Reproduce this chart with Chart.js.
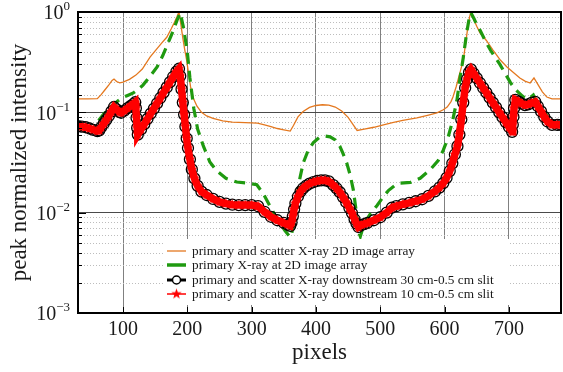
<!DOCTYPE html>
<html>
<head>
<meta charset="utf-8">
<script src="https://cdn.jsdelivr.net/npm/chart.js@4.4.1/dist/chart.umd.min.js"></script>
<style>
  html, body { margin: 0; padding: 0; background: #fff; }
  canvas { display: block; }
</style>
</head>
<body>
<canvas id="myChart" width="563" height="372"></canvas>
<script>
// primary and scatter X-ray, 2D image array (orange)
const scatterX = [30, 45, 60, 66, 72, 78, 83, 86, 90, 95,
  100, 110, 120, 130, 142, 150, 160, 168, 175, 180,
  184, 187, 190, 193, 196, 199, 202, 205, 209, 215,
  222, 230, 240, 255, 270, 290, 309, 320, 330, 340,
  350, 360, 365, 372, 380, 390, 400, 410, 420, 430,
  440, 450, 458, 464, 475, 490, 505, 519, 535, 557,
  575, 588, 598, 604, 610, 613, 618, 624, 629, 633,
  636, 639, 641, 645, 650, 655, 665, 675, 687, 697,
  707, 717, 725, 733, 739, 745, 752, 759, 767, 781];
const scatterY = [0.136, 0.136, 0.137, 0.150, 0.168, 0.188, 0.208, 0.215, 0.203, 0.197,
  0.200, 0.213, 0.235, 0.27, 0.355, 0.41, 0.49, 0.56, 0.68, 0.79,
  0.90, 1.0, 0.75, 0.55, 0.42, 0.33, 0.24, 0.18, 0.14, 0.115,
  0.100, 0.092, 0.087, 0.082, 0.080, 0.079, 0.078, 0.075, 0.072, 0.069,
  0.067, 0.065, 0.074, 0.090, 0.102, 0.112, 0.117, 0.119, 0.118, 0.113,
  0.103, 0.089, 0.075, 0.066, 0.068, 0.071, 0.075, 0.079, 0.083, 0.088,
  0.094, 0.099, 0.106, 0.113, 0.128, 0.142, 0.18, 0.25, 0.33, 0.50,
  0.70, 0.90, 1.0, 0.85, 0.72, 0.62, 0.52, 0.42, 0.33, 0.283,
  0.25, 0.22, 0.205, 0.196, 0.22, 0.19, 0.16, 0.142, 0.136, 0.136];

// primary X-ray at 2D image array (green dashed)
const primaryX = [62, 70, 80, 90, 98, 108, 116, 124, 131, 140,
  153, 162, 170, 178, 184, 189, 194, 200, 204, 210,
  216, 225, 235, 246, 260, 277, 295, 308, 318, 328,
  340, 352, 360, 362, 366, 370, 375, 380, 388, 396,
  405, 414, 422, 430, 437, 442, 448, 453, 458, 462,
  466, 469, 475, 485, 495, 505, 513, 522, 531, 547,
  562, 578, 590, 598, 605, 612, 619, 624, 629, 634,
  638, 641, 646, 650, 655, 663, 671, 679, 686, 694,
  702, 708, 714, 721, 728, 733, 738, 743, 748, 755, 762];
const primaryY = [0.083, 0.096, 0.113, 0.127, 0.139, 0.148, 0.156, 0.170, 0.187, 0.22,
  0.283, 0.37, 0.49, 0.65, 0.83, 0.98, 0.70, 0.40, 0.22, 0.11,
  0.068, 0.046, 0.032, 0.026, 0.022, 0.0202, 0.0197, 0.0190, 0.0155, 0.0118,
  0.0085, 0.0066, 0.0057, 0.0060, 0.0085, 0.014, 0.022, 0.031, 0.042, 0.050,
  0.056, 0.058, 0.057, 0.053, 0.046, 0.039, 0.031, 0.024, 0.017, 0.011,
  0.0065, 0.0058, 0.0078, 0.0098, 0.0118, 0.0145, 0.0167, 0.0185, 0.0197, 0.020,
  0.022, 0.027, 0.033, 0.042, 0.055, 0.08, 0.13, 0.22, 0.35, 0.6,
  0.85, 0.98, 0.85, 0.75, 0.66, 0.52, 0.42, 0.35, 0.30, 0.245,
  0.20, 0.175, 0.16, 0.145, 0.135, 0.14, 0.149, 0.128, 0.113, 0.10, 0.09];

// downstream slit profiles (30 cm and 10 cm overlap in the picture)
const slitX = [30, 36, 42, 48, 54, 60, 63, 66, 70, 74,
  78, 82, 86, 90, 94, 97, 102, 107, 112, 116,
  119, 120, 121, 122, 123, 128, 133, 138, 143, 148,
  153, 158, 163, 168, 173, 178, 183, 187, 189, 191,
  193, 195, 197, 199, 201, 204, 207, 211, 216, 222,
  230, 240, 250, 260, 270, 280, 290, 300, 310, 320,
  330, 340, 350, 356, 360, 362, 364, 366, 368, 372,
  376, 380, 385, 390, 396, 402, 408, 414, 420, 427,
  432, 437, 442, 447, 452, 456, 460, 463, 466, 470,
  475, 480, 490, 500, 510, 518, 525, 535, 545, 555,
  565, 575, 585, 592, 598, 603, 608, 612, 616, 620,
  623, 626, 629, 632, 635, 638, 641, 645, 650, 655,
  660, 665, 670, 675, 680, 685, 690, 695, 700, 705,
  706, 707, 708, 710, 715, 720, 725, 730, 735, 741,
  745, 750, 755, 760, 767, 775, 781];
const slitY = [0.073, 0.072, 0.071, 0.069, 0.067, 0.065, 0.066, 0.071, 0.077, 0.084,
  0.092, 0.102, 0.113, 0.107, 0.101, 0.099, 0.104, 0.110, 0.116, 0.121,
  0.126, 0.110, 0.088, 0.070, 0.060, 0.0676, 0.0762, 0.086, 0.097, 0.109,
  0.123, 0.139, 0.157, 0.177, 0.200, 0.226, 0.254, 0.272, 0.23, 0.17,
  0.125, 0.095, 0.072, 0.055, 0.044, 0.034, 0.027, 0.022, 0.0185, 0.0162,
  0.0150, 0.0137, 0.0128, 0.0123, 0.0120, 0.0119, 0.0119, 0.0119, 0.0116, 0.0102,
  0.0091, 0.0084, 0.0079, 0.0076, 0.0074, 0.0080, 0.0092, 0.0108, 0.0124, 0.0145,
  0.0162, 0.0175, 0.0186, 0.0195, 0.0202, 0.0207, 0.0210, 0.0210, 0.0205, 0.0188,
  0.0175, 0.0160, 0.0143, 0.0127, 0.0111, 0.0099, 0.0086, 0.0078, 0.0072, 0.0075,
  0.0077, 0.0079, 0.0084, 0.0090, 0.0100, 0.0112, 0.0116, 0.0121, 0.0125, 0.0130,
  0.0136, 0.0147, 0.0163, 0.0178, 0.0197, 0.0222, 0.0260, 0.031, 0.038, 0.046,
  0.060, 0.085, 0.125, 0.175, 0.215, 0.25, 0.268, 0.245, 0.219, 0.196,
  0.175, 0.157, 0.140, 0.125, 0.112, 0.100, 0.0894, 0.080, 0.0715, 0.064,
  0.075, 0.090, 0.110, 0.133, 0.128, 0.122, 0.118, 0.120, 0.124, 0.127,
  0.115, 0.102, 0.090, 0.081, 0.075, 0.075, 0.075];

const seriesLabels = [
  "primary and scatter X-ray 2D image array",
  "primary X-ray at 2D image array",
  "primary and scatter X-ray downstream 30 cm-0.5 cm slit",
  "primary and scatter X-ray downstream 10 cm-0.5 cm slit"
];
const xTicks = [100, 200, 300, 400, 500, 600, 700];
const yDecades = [1, 0.1, 0.01, 0.001];

const ORANGE = "#e4781f";
const GREEN = "#1f9a10";
const RED = "#ff0000";
const INK = "#1a1a1a";
const SERIF = '"Liberation Serif", "Times New Roman", serif';

const pts = (xs, ys) => xs.map((x, i) => ({ x: x, y: ys[i] }));
const isDecade = v => Math.abs(Math.log10(v) - Math.round(Math.log10(v))) < 1e-6;

// filled five point star, like the matplotlib '*' marker
function makeStar(color, R) {
  const c = document.createElement("canvas");
  const s = Math.ceil(R * 2 + 2);
  c.width = s; c.height = s;
  const g = c.getContext("2d");
  g.beginPath();
  for (let i = 0; i < 10; i++) {
    const r = i % 2 ? R * 0.42 : R;
    const a = -Math.PI / 2 + i * Math.PI / 5;
    g.lineTo(s / 2 + r * Math.cos(a), s / 2 + r * Math.sin(a));
  }
  g.closePath();
  g.fillStyle = color;
  g.fill();
  return c;
}
const starImg = makeStar(RED, 5.5);

// dotted minor grid, frame, inward ticks and 10^n labels
const framePlugin = {
  id: "frame",
  beforeDatasetsDraw(chart) {
    const { ctx, chartArea: a, scales } = chart;
    ctx.save();
    ctx.strokeStyle = "#bdbdbd";
    ctx.lineWidth = 1;
    ctx.setLineDash([1, 2]);
    scales.y.ticks.forEach(t => {
      if (isDecade(t.value)) return;
      const py = Math.round(scales.y.getPixelForValue(t.value)) + 0.5;
      ctx.beginPath(); ctx.moveTo(a.left, py); ctx.lineTo(a.right, py); ctx.stroke();
    });
    ctx.restore();
  },
  afterDatasetsDraw(chart) {
    const { ctx, chartArea: a, scales } = chart;
    ctx.save();
    ctx.strokeStyle = "#000";
    ctx.lineWidth = 1;
    scales.y.ticks.forEach(t => {
      const py = Math.round(scales.y.getPixelForValue(t.value)) + 0.5;
      const len = isDecade(t.value) ? 8 : 4;
      ctx.beginPath(); ctx.moveTo(a.left, py); ctx.lineTo(a.left + len, py); ctx.stroke();
    });
    scales.x.ticks.forEach(t => {
      const px = Math.round(scales.x.getPixelForValue(t.value)) + 0.5;
      ctx.beginPath(); ctx.moveTo(px, a.bottom); ctx.lineTo(px, a.bottom - 6); ctx.stroke();
    });
    ctx.lineWidth = 2;
    ctx.strokeRect(a.left, a.top, a.right - a.left, a.bottom - a.top);
    ctx.restore();
  },
  afterDraw(chart) {
    const { ctx, chartArea: a, scales } = chart;
    const right = a.left - 8;
    ctx.save();
    ctx.fillStyle = INK;
    ctx.textBaseline = "middle";
    yDecades.forEach(d => {
      const py = scales.y.getPixelForValue(d);
      const n = Math.round(Math.log10(d));
      const ex = n < 0 ? "\u2212" + (-n) : String(n);
      ctx.font = "13px " + SERIF;
      const ew = ctx.measureText(ex).width;
      ctx.textAlign = "left";
      ctx.fillText(ex, right - ew, py - 5);
      ctx.font = "20px " + SERIF;
      ctx.textAlign = "right";
      ctx.fillText("10", right - ew, py + 2);
    });
    ctx.restore();
  }
};

// legend box inside the plot, lower middle
const legendPlugin = {
  id: "boxLegend",
  afterDraw(chart) {
    const { ctx, chartArea: a } = chart;
    const x0 = a.left + 85, y0 = a.bottom - 74;
    ctx.save();
    ctx.fillStyle = "#fff";
    ctx.fillRect(x0, y0, 347, 66);
    ctx.font = "13.3px " + SERIF;
    ctx.textBaseline = "middle";
    const rows = [y0 + 12, y0 + 26, y0 + 41, y0 + 55];
    const sx = x0 + 4, ex = x0 + 23, cx = x0 + 13.5;
    rows.forEach((ry, i) => {
      if (i === 0) { ctx.strokeStyle = ORANGE; ctx.lineWidth = 1.3; }
      if (i === 1) { ctx.strokeStyle = GREEN; ctx.lineWidth = 3.5; }
      if (i === 2) { ctx.strokeStyle = "#000"; ctx.lineWidth = 3; }
      if (i === 3) { ctx.strokeStyle = RED; ctx.lineWidth = 1.5; }
      ctx.beginPath(); ctx.moveTo(sx, ry); ctx.lineTo(ex, ry); ctx.stroke();
      if (i === 2) {
        ctx.lineWidth = 1.5; ctx.fillStyle = "#fff";
        ctx.beginPath(); ctx.arc(cx, ry, 4, 0, Math.PI * 2); ctx.fill(); ctx.stroke();
      }
      if (i === 3) ctx.drawImage(starImg, cx - starImg.width / 2, ry - starImg.height / 2);
      ctx.fillStyle = INK;
      ctx.fillText(seriesLabels[i], x0 + 29, ry + 0.5);
    });
    ctx.restore();
  }
};

new Chart("myChart", {
  type: "line",
  data: {
    datasets: [{
      label: seriesLabels[0],
      data: pts(scatterX, scatterY),
      borderColor: ORANGE,
      borderWidth: 1.3,
      pointRadius: 0,
      order: 4
    }, {
      label: seriesLabels[1],
      data: pts(primaryX, primaryY),
      borderColor: GREEN,
      borderWidth: 3.2,
      borderDash: [11, 7],
      pointRadius: 0,
      order: 3
    }, {
      label: seriesLabels[2],
      data: pts(slitX, slitY),
      borderColor: "#000",
      borderWidth: 2,
      pointStyle: "circle",
      pointRadius: 5.5,
      pointBorderWidth: 1.3,
      pointBorderColor: "#000",
      pointBackgroundColor: "rgba(0,0,0,0)",
      order: 2
    }, {
      label: seriesLabels[3],
      data: pts(slitX, slitY),
      borderColor: RED,
      borderWidth: 7.5,
      pointStyle: starImg,
      pointRadius: 5,
      order: 1
    }]
  },
  options: {
    responsive: false,
    animation: false,
    devicePixelRatio: 1,
    layout: { autoPadding: false, padding: { top: 12, right: 2, left: 0, bottom: 0 } },
    plugins: { legend: { display: false }, tooltip: { enabled: false } },
    scales: {
      x: {
        type: "linear",
        min: 30,
        max: 781,
        afterBuildTicks: s => { s.ticks = xTicks.map(v => ({ value: v })); },
        afterFit: s => { s.height = 59; s.paddingLeft = 0; s.paddingRight = 0; },
        grid: { color: "#808080", lineWidth: 1, drawTicks: false },
        border: { display: false },
        ticks: { color: INK, padding: 5, font: { family: SERIF, size: 20 } },
        title: { display: true, text: "pixels", color: INK, font: { family: SERIF, size: 23 }, padding: { top: 0, bottom: 5 } }
      },
      y: {
        type: "logarithmic",
        min: 0.001,
        max: 1,
        afterFit: s => { s.width = 78; s.paddingTop = 0; s.paddingBottom = 0; },
        grid: { color: c => isDecade(c.tick.value) ? "#4a4a4a" : "rgba(0,0,0,0)", lineWidth: 1, drawTicks: false },
        border: { display: false },
        ticks: { autoSkip: false, callback: () => "" },
        title: { display: true, text: "peak normalized intensity", color: INK, font: { family: SERIF, size: 23 }, padding: { top: 6, bottom: 0 } }
      }
    }
  },
  plugins: [framePlugin, legendPlugin]
});
</script>
</body>
</html>
